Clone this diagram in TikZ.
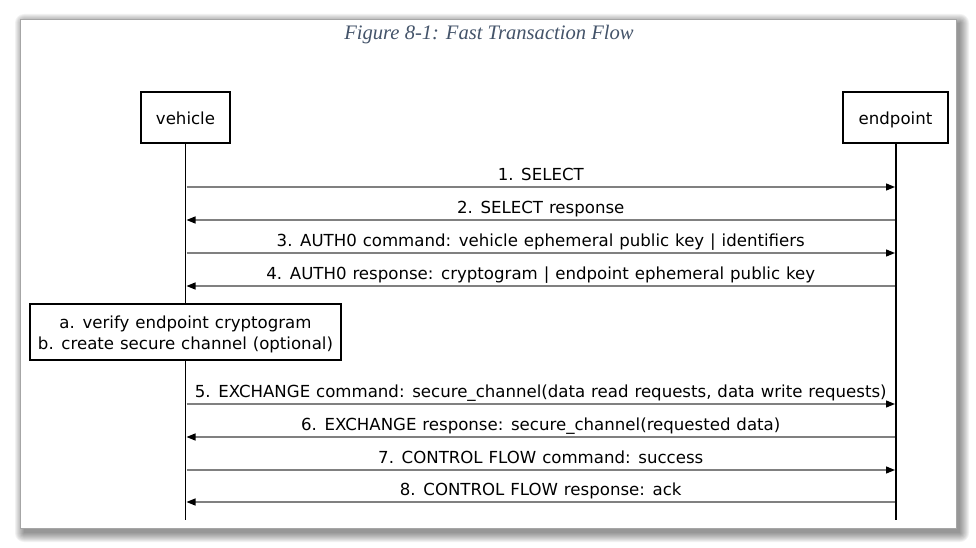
\documentclass[tikz,border=0pt]{standalone}
\usepackage{fontspec}
\setmainfont{DejaVu Sans}[WordSpace=1.12]
\newfontfamily\captionfont{Liberation Serif}
\usetikzlibrary{arrows.meta}
\definecolor{captionblue}{HTML}{44546A}
\definecolor{msggray}{HTML}{808080}
\tikzset{
  actor/.style={draw=black, line width=1.3pt, fill=white, inner sep=0pt,
    minimum height=51pt, text height=15pt, text depth=0pt,
    font=\fontsize{16.6}{19}\selectfont},
  lifeline/.style={draw=black, line width=1.8pt},
  msg/.style={draw=msggray, line width=1.3pt,
    -{Triangle[length=9pt,width=7pt,black]}},
  msglabel/.style={anchor=base, yshift=6.5pt, inner sep=0pt,
    font=\fontsize{16.6}{19}\selectfont},
  notebox/.style={draw=black, line width=1.3pt, fill=white, inner sep=0pt,
    minimum width=311pt, minimum height=56pt},
  notetext/.style={inner sep=0pt, align=center,
    font=\fontsize{16.6}{21}\selectfont},
  caption/.style={font=\captionfont\itshape\fontsize{20.6}{23}\selectfont,
    text=captionblue}
}
\begin{document}
\begin{tikzpicture}[x=1pt,y=-1pt]
  \useasboundingbox (0,0) rectangle (976,548);
  % soft shadow under the page frame
  \foreach \r in {0,...,9}
    \fill[black, opacity=0.05, rounded corners={\r pt}]
      ({24-\r},{23-\r}) rectangle ({960+\r},{533+\r});
  \node[draw=black!35, line width=0.6pt, fill=white, inner sep=0pt,
        minimum width=936pt, minimum height=509pt] (frame) at (488,273.5) {};

  \node[caption] (title) at (489,35) {Figure 8-1: Fast Transaction Flow};

  % participants
  \node[actor, minimum width=89pt] (veh) at (185.5,117.5) {vehicle};
  \node[actor, minimum width=105pt] (ep) at (895.5,117.5) {endpoint};
  \coordinate (vehend) at (185.5,520);
  \coordinate (epend) at (896,520);
  \draw[lifeline] (veh.south) -- (vehend);
  \draw[lifeline] (ep.south -| epend) -- (epend);

  % message anchor points on the lifelines
  \foreach \n/\y in {1/187,2/220,3/253,4/286,5/404,6/437,7/470,8/502} {
    \coordinate (v\n) at (186.5,\y);
    \coordinate (e\n) at (895,\y);
  }

  \draw[msg] (v1) -- node[msglabel] {1. SELECT} (e1);
  \draw[msg] (e2) -- node[msglabel] {2. SELECT response} (v2);
  \draw[msg] (v3) -- node[msglabel] {3. AUTH0 command: vehicle ephemeral public key | identifiers} (e3);
  \draw[msg] (e4) -- node[msglabel] {4. AUTH0 response: cryptogram | endpoint ephemeral public key} (v4);

  \node[notebox] (note) at (185.5,332) {};
  \node[notetext, yshift=-2.5pt] (notetxt) at (note.center)
    {a. verify endpoint cryptogram\\b. create secure channel (optional)};

  \draw[msg] (v5) -- node[msglabel] {5. EXCHANGE command: secure\_channel(data read requests, data write requests)} (e5);
  \draw[msg] (e6) -- node[msglabel] {6. EXCHANGE response: secure\_channel(requested data)} (v6);
  \draw[msg] (v7) -- node[msglabel] {7. CONTROL FLOW command: success} (e7);
  \draw[msg] (e8) -- node[msglabel] {8. CONTROL FLOW response: ack} (v8);
\end{tikzpicture}
\end{document}
